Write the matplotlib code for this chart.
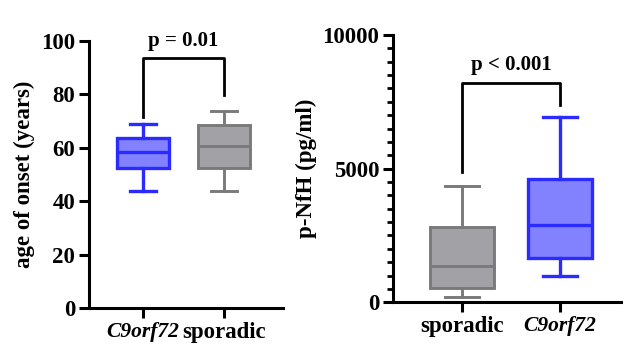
import matplotlib
matplotlib.use("Agg")
import matplotlib.pyplot as plt
from matplotlib.ticker import MultipleLocator

plt.rcParams['font.family'] = ['Liberation Serif', 'DejaVu Serif']
plt.rcParams['font.weight'] = 'bold'

# age of onset (years): whisker low, q1, median, q3, whisker high
onset_groups = ["C9orf72", "sporadic"]
onset_low = [43.8, 43.8]
onset_q1 = [52.3, 52.3]
onset_med = [58.2, 60.8]
onset_q3 = [63.5, 68.4]
onset_high = [68.8, 73.9]

# p-NfH (pg/ml)
nfh_groups = ["sporadic", "C9orf72"]
nfh_low = [210, 985]
nfh_q1 = [523, 1670]
nfh_med = [1370, 2880]
nfh_q3 = [2806, 4600]
nfh_high = [4362, 6945]

p_onset = "p = 0.01"
p_nfh = "p < 0.001"

BLUE_EDGE = "#2b2bff"
BLUE_FILL = "#8282ff"
GRAY_EDGE = "#7a7a7a"
GRAY_FILL = "#a2a2a6"
colors = {"C9orf72": (BLUE_EDGE, BLUE_FILL), "sporadic": (GRAY_EDGE, GRAY_FILL)}

TICK_FS = 16.5
LABEL_FS = 16.5


def make_stats(groups, low, q1, med, q3, high):
    stats = []
    for i in range(len(groups)):
        stats.append({"whislo": low[i], "q1": q1[i], "med": med[i],
                      "q3": q3[i], "whishi": high[i], "fliers": [],
                      "label": groups[i]})
    return stats


def draw_boxes(ax, groups, stats, capw):
    for i, g in enumerate(groups):
        edge, fill = colors[g]
        lw = 2.4 if g == "C9orf72" else 2.1
        ax.bxp([stats[i]], positions=[i + 1], widths=0.65, capwidths=capw,
               patch_artist=True, showfliers=False,
               boxprops=dict(facecolor=fill, edgecolor=edge, linewidth=lw),
               medianprops=dict(color=edge, linewidth=lw),
               whiskerprops=dict(color=edge, linewidth=lw),
               capprops=dict(color=edge, linewidth=lw))


def style_axis(ax):
    ax.spines['top'].set_visible(False)
    ax.spines['right'].set_visible(False)
    ax.spines['left'].set_linewidth(2.2)
    ax.spines['bottom'].set_linewidth(2.2)
    ax.tick_params(axis='both', which='major', width=2.2, length=7,
                   labelsize=TICK_FS, pad=3)
    ax.tick_params(axis='y', which='minor', width=2.0, length=4)


def bracket(ax, x1, x2, y_top, y1, y2, text, dy):
    ax.plot([x1, x1, x2, x2], [y1, y_top, y_top, y2], color='black', lw=2.0,
            clip_on=False)
    ax.text((x1 + x2) / 2, y_top + dy, text, ha='center', va='bottom',
            fontsize=15, fontweight='bold', clip_on=False)


fig = plt.figure(figsize=(6.23, 3.48), dpi=100)

# left panel: age of onset
ax1 = fig.add_axes([0.1429, 0.1149, 0.3114, 0.768])
draw_boxes(ax1, onset_groups,
           make_stats(onset_groups, onset_low, onset_q1, onset_med, onset_q3, onset_high), 0.33)
ax1.set_xlim(0.333, 2.73)
ax1.set_ylim(0, 100)
ax1.set_yticks([0, 20, 40, 60, 80, 100])
ax1.set_xticks([1, 2])
ax1.set_xticklabels(onset_groups)
style_axis(ax1)
ax1.get_xticklabels()[0].set_style('italic')
ax1.get_xticklabels()[0].set_fontsize(15.5)
ax1.set_ylabel("age of onset (years)", fontsize=LABEL_FS, fontweight='bold', labelpad=4)
bracket(ax1, 1, 2, 93.5, 71.4, 79.8, p_onset, 2.8)

# right panel: p-NfH
ax2 = fig.add_axes([0.6308, 0.1313, 0.3676, 0.768])
draw_boxes(ax2, nfh_groups,
           make_stats(nfh_groups, nfh_low, nfh_q1, nfh_med, nfh_q3, nfh_high), 0.34)
ax2.set_xlim(0.30, 2.63)
ax2.set_ylim(0, 10000)
ax2.set_yticks([0, 5000, 10000])
ax2.yaxis.set_minor_locator(MultipleLocator(500))
ax2.set_xticks([1, 2])
ax2.set_xticklabels(nfh_groups)
style_axis(ax2)
ax2.get_xticklabels()[1].set_style('italic')
ax2.get_xticklabels()[1].set_fontsize(15.5)
ax2.set_ylabel("p-NfH (pg/ml)", fontsize=LABEL_FS, fontweight='bold', labelpad=4)
bracket(ax2, 1, 2, 8217, 4887, 7380, p_nfh, 300)

fig.savefig("out.png", dpi=100)
